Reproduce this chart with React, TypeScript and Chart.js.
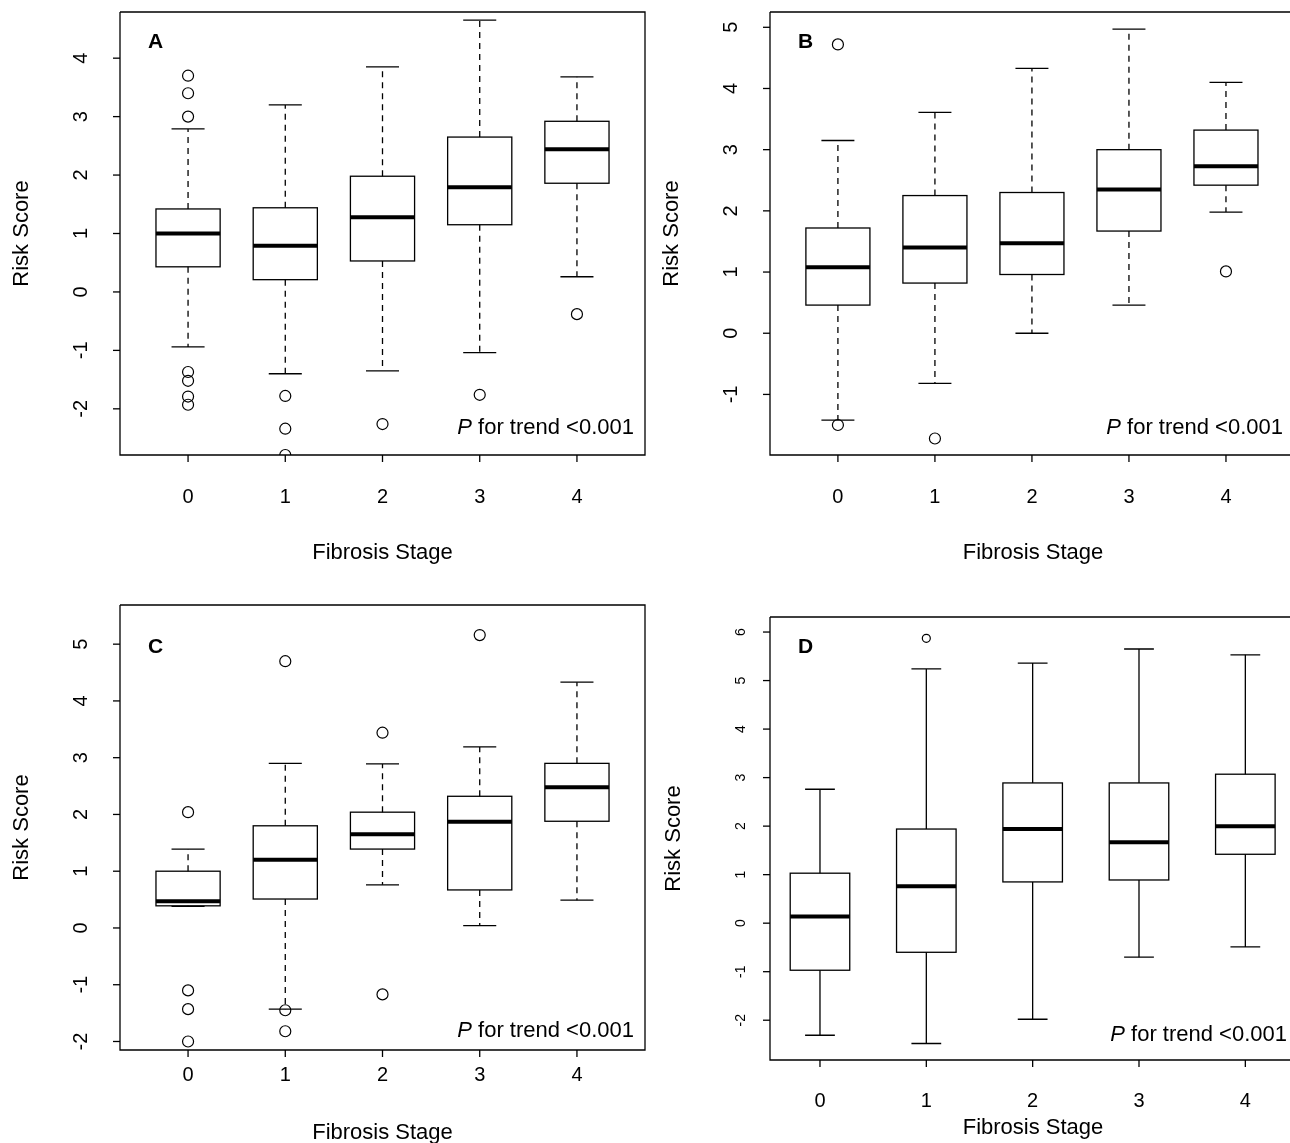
import React, { useEffect, useRef } from "react";
import { Chart, registerables } from "chart.js";
Chart.register(...registerables);

const stages = [0, 1, 2, 3, 4];
const stageLabels = ["0", "1", "2", "3", "4"];

// Panel A
const aLow = [-0.94, -1.4, -1.35, -1.04, 0.26];
const aQ1 = [0.43, 0.21, 0.53, 1.15, 1.86];
const aMed = [1.0, 0.79, 1.28, 1.79, 2.44];
const aQ3 = [1.42, 1.44, 1.98, 2.65, 2.92];
const aHigh = [2.79, 3.2, 3.85, 4.65, 3.68];
const aOutX = [0, 0, 0, 0, 0, 0, 0, 1, 1, 1, 2, 3, 4];
const aOutY = [3.7, 3.4, 3.0, -1.37, -1.52, -1.79, -1.93, -1.78, -2.34, -2.79, -2.26, -1.76, -0.38];
const aTicks = [-2, -1, 0, 1, 2, 3, 4];

// Panel B
const bLow = [-1.42, -0.82, 0.0, 0.46, 1.98];
const bQ1 = [0.46, 0.82, 0.96, 1.67, 2.42];
const bMed = [1.08, 1.4, 1.47, 2.35, 2.73];
const bQ3 = [1.72, 2.25, 2.3, 3.0, 3.32];
const bHigh = [3.15, 3.61, 4.33, 4.97, 4.1];
const bOutX = [0, 0, 1, 4];
const bOutY = [4.72, -1.5, -1.72, 1.01];
const bTicks = [-1, 0, 1, 2, 3, 4, 5];

// Panel C
const cLow = [0.38, -1.43, 0.76, 0.04, 0.49];
const cQ1 = [0.39, 0.51, 1.39, 0.67, 1.88];
const cMed = [0.47, 1.2, 1.65, 1.87, 2.48];
const cQ3 = [1.0, 1.8, 2.04, 2.32, 2.9];
const cHigh = [1.39, 2.9, 2.89, 3.19, 4.33];
const cOutX = [0, 0, 0, 0, 1, 1, 1, 2, 2, 3];
const cOutY = [2.04, -1.1, -1.43, -2.0, 4.7, -1.45, -1.82, 3.44, -1.17, 5.16];
const cTicks = [-2, -1, 0, 1, 2, 3, 4, 5];

// Panel D
const dLow = [-2.31, -2.48, -1.98, -0.7, -0.49];
const dQ1 = [-0.97, -0.6, 0.85, 0.89, 1.42];
const dMed = [0.14, 0.76, 1.94, 1.67, 2.0];
const dQ3 = [1.03, 1.94, 2.89, 2.89, 3.07];
const dHigh = [2.76, 5.24, 5.36, 5.65, 5.53];
const dOutX = [1];
const dOutY = [5.87];
const dTicks = [-2, -1, 0, 1, 2, 3, 4, 5, 6];

const FONT = "'Liberation Sans', Arial, sans-serif";

type Panel = {
  letter: string;
  area: [number, number, number, number]; // left, top, right, bottom
  x: [number, number];
  y: [number, number];
  low: number[]; q1: number[]; med: number[]; q3: number[]; high: number[];
  outX: number[]; outY: number[];
  yTicks: number[];
  dashed: boolean;
  boxHalf: number; capHalf: number;
  yLabX: number; yLabFont: number; xLabY: number;
  yTitleX: number; xTitleY: number;
  pRight: number; pY: number; letterY: number;
  rightBorder: boolean;
  radius: number;
};

const panels: Panel[] = [
  { letter: "A", area: [120, 12, 645, 455], x: [-0.7, 4.7], y: [-2.79, 4.79],
    low: aLow, q1: aQ1, med: aMed, q3: aQ3, high: aHigh, outX: aOutX, outY: aOutY, yTicks: aTicks,
    dashed: true, boxHalf: 0.33, capHalf: 0.17, yLabX: 81, yLabFont: 20, xLabY: 497,
    yTitleX: 22, xTitleY: 553, pRight: 634, pY: 428, letterY: 42, rightBorder: true, radius: 5.5 },
  { letter: "B", area: [770, 12, 1290, 455], x: [-0.7, 4.66], y: [-1.99, 5.25],
    low: bLow, q1: bQ1, med: bMed, q3: bQ3, high: bHigh, outX: bOutX, outY: bOutY, yTicks: bTicks,
    dashed: true, boxHalf: 0.33, capHalf: 0.17, yLabX: 731, yLabFont: 20, xLabY: 497,
    yTitleX: 672, xTitleY: 553, pRight: 1283, pY: 428, letterY: 42, rightBorder: false, radius: 5.5 },
  { letter: "C", area: [120, 605, 645, 1050], x: [-0.7, 4.7], y: [-2.15, 5.69],
    low: cLow, q1: cQ1, med: cMed, q3: cQ3, high: cHigh, outX: cOutX, outY: cOutY, yTicks: cTicks,
    dashed: true, boxHalf: 0.33, capHalf: 0.17, yLabX: 81, yLabFont: 20, xLabY: 1075,
    yTitleX: 22, xTitleY: 1133, pRight: 634, pY: 1031, letterY: 647, rightBorder: true, radius: 5.5 },
  { letter: "D", area: [770, 617, 1290, 1060], x: [-0.47, 4.42], y: [-2.82, 6.31],
    low: dLow, q1: dQ1, med: dMed, q3: dQ3, high: dHigh, outX: dOutX, outY: dOutY, yTicks: dTicks,
    dashed: false, boxHalf: 0.28, capHalf: 0.14, yLabX: 741, yLabFont: 14, xLabY: 1101,
    yTitleX: 674, xTitleY: 1128, pRight: 1287, pY: 1035, letterY: 647, rightBorder: false, radius: 4 },
];

function makeChart(canvas: HTMLCanvasElement, p: Panel) {
  const [L, T, R, B] = p.area;
  const plugin = {
    id: "box" + p.letter,
    beforeDatasetsDraw(chart: any) {
      const ctx = chart.ctx as CanvasRenderingContext2D;
      const xs = chart.scales.x, ys = chart.scales.y;
      ctx.save();
      ctx.strokeStyle = "#000";
      ctx.fillStyle = "#000";
      ctx.lineWidth = 1.3;
      ctx.beginPath();
      ctx.moveTo(L, T); ctx.lineTo(L, B); ctx.lineTo(R, B);
      if (p.rightBorder) ctx.lineTo(R, T); else ctx.moveTo(R, T);
      ctx.lineTo(L, T);
      ctx.stroke();
      ctx.font = `${p.yLabFont}px ${FONT}`;
      ctx.textAlign = "center"; ctx.textBaseline = "middle";
      p.yTicks.forEach((v) => {
        const y = ys.getPixelForValue(v);
        ctx.beginPath(); ctx.moveTo(L - 7, y); ctx.lineTo(L, y); ctx.stroke();
        ctx.save(); ctx.translate(p.yLabX, y); ctx.rotate(-Math.PI / 2);
        ctx.fillText(String(v), 0, 0); ctx.restore();
      });
      ctx.font = `20px ${FONT}`;
      stages.forEach((s, i) => {
        const x = xs.getPixelForValue(s);
        ctx.beginPath(); ctx.moveTo(x, B); ctx.lineTo(x, B + 7); ctx.stroke();
        ctx.fillText(stageLabels[i], x, p.xLabY);
      });
      ctx.font = `22px ${FONT}`;
      ctx.fillText("Fibrosis Stage", (L + R) / 2 + (p.rightBorder ? 0 : 3), p.xTitleY);
      ctx.save(); ctx.translate(p.yTitleX, (T + B) / 2); ctx.rotate(-Math.PI / 2);
      ctx.fillText("Risk Score", 0, 0); ctx.restore();
      ctx.font = `bold 21px ${FONT}`;
      ctx.textAlign = "left";
      ctx.fillText(p.letter, L + 28, p.letterY);
      ctx.font = `22px ${FONT}`;
      ctx.textAlign = "right";
      const rest = " for trend <0.001";
      ctx.fillText(rest, p.pRight, p.pY);
      const w = ctx.measureText(rest).width;
      ctx.font = `italic 22px ${FONT}`;
      ctx.fillText("P", p.pRight - w, p.pY);
      stages.forEach((s, i) => {
        const xc = xs.getPixelForValue(s);
        const bw = xs.getPixelForValue(s + p.boxHalf) - xc;
        const cw = xs.getPixelForValue(s + p.capHalf) - xc;
        const yl = ys.getPixelForValue(p.low[i]);
        const y1 = ys.getPixelForValue(p.q1[i]);
        const ym = ys.getPixelForValue(p.med[i]);
        const y3 = ys.getPixelForValue(p.q3[i]);
        const yh = ys.getPixelForValue(p.high[i]);
        ctx.lineWidth = 1.3;
        ctx.setLineDash(p.dashed ? [6, 5] : []);
        ctx.beginPath();
        ctx.moveTo(xc, y3); ctx.lineTo(xc, yh);
        ctx.moveTo(xc, y1); ctx.lineTo(xc, yl);
        ctx.stroke();
        ctx.setLineDash([]);
        ctx.beginPath();
        ctx.moveTo(xc - cw, yh); ctx.lineTo(xc + cw, yh);
        ctx.moveTo(xc - cw, yl); ctx.lineTo(xc + cw, yl);
        ctx.stroke();
        ctx.strokeRect(xc - bw, y3, 2 * bw, y1 - y3);
        ctx.lineWidth = 4;
        ctx.beginPath(); ctx.moveTo(xc - bw, ym); ctx.lineTo(xc + bw, ym); ctx.stroke();
      });
      ctx.restore();
    },
  };
  return new Chart(canvas, {
    type: "scatter",
    data: {
      datasets: [{
        data: p.outX.map((x, i) => ({ x, y: p.outY[i] })),
        pointRadius: p.radius,
        pointBorderWidth: 1.2,
        borderColor: "#000",
        backgroundColor: "rgba(0,0,0,0)",
      }],
    },
    options: {
      animation: false,
      responsive: false,
      devicePixelRatio: 1,
      layout: { autoPadding: false, padding: { left: L, top: T, right: 1290 - R, bottom: 1143 - B } },
      scales: {
        x: { type: "linear", min: p.x[0], max: p.x[1], display: false },
        y: { type: "linear", min: p.y[0], max: p.y[1], display: false },
      },
      plugins: { legend: { display: false }, tooltip: { enabled: false } },
      events: [],
    },
    plugins: [plugin],
  } as any);
}

function PanelCanvas({ p }: { p: Panel }) {
  const ref = useRef<HTMLCanvasElement>(null);
  useEffect(() => {
    const c = makeChart(ref.current!, p);
    return () => c.destroy();
  }, [p]);
  return (
    <canvas ref={ref} width={1290} height={1143}
      style={{ position: "absolute", left: 0, top: 0, width: 1290, height: 1143 }} />
  );
}

export default function App() {
  return (
    <div style={{ position: "fixed", left: 0, top: 0, width: 1290, height: 1143, background: "#fff", overflow: "hidden" }}>
      {panels.map((p) => <PanelCanvas key={p.letter} p={p} />)}
    </div>
  );
}
